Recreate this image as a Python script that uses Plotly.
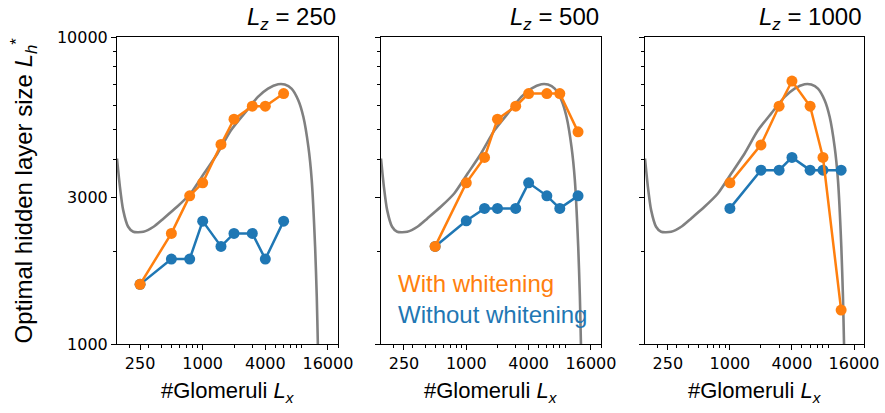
import numpy as np
import plotly.graph_objects as go

# ---------------- data ----------------
lz_labels = ["250", "500", "1000"]

x_p1 = [250, 500, 750, 1000, 1500, 2000, 3000, 4000, 6000]
white_p1 = [1564, 2292, 3038, 3349, 4466, 5398, 5950, 5950, 6542]
nowhite_p1 = [1564, 1891, 1891, 2513, 2079, 2292, 2292, 1891, 2513]

x_p2 = [500, 1000, 1500, 2000, 3000, 4000, 6000, 8000, 12000]
white_p2 = [2079, 3349, 4051, 5398, 5950, 6542, 6542, 6542, 4909]
nowhite_p2 = [2079, 2520, 2765, 2765, 2765, 3349, 3038, 2765, 3038]

x_p3 = [1000, 2000, 3000, 4000, 6000, 8000, 12000]
white_p3 = [3349, 4452, 5950, 7188, 5950, 4051, 1290]
nowhite_p3 = [2765, 3684, 3684, 4051, 3684, 3684, 3684]

# theory curve (same in every panel)
curve_x = [150, 160, 172, 192, 215, 269, 337, 421, 567, 764, 1030, 1389, 1870,
           2519, 3396, 4246, 5309, 6155, 7150, 8300, 9285, 10380, 11180, 12050,
           12500, 12800, 13100]
curve_y = [4018, 3251, 2729, 2409, 2320, 2320, 2409, 2565, 2798, 3091, 3590, 4175,
           4966, 5637, 6379, 6792, 7015, 7000, 6792, 6223, 5496, 4385, 3419, 2074,
           1426, 1005, 700]

x_tickvals = [250, 1000, 4000, 16000]
x_ticktext = ["250", "1000", "4000", "16000"]
x_minor = [200, 300, 400, 500, 600, 700, 800, 900, 2000, 3000, 5000, 6000, 7000,
           8000, 9000, 20000]
y_tickvals = [1000, 3000, 10000]
y_ticktext = ["1000", "3000", "10000"]
y_minor = [2000, 4000, 5000, 6000, 7000, 8000, 9000]

panels = [(x_p1, white_p1, nowhite_p1), (x_p2, white_p2, nowhite_p2),
          (x_p3, white_p3, nowhite_p3)]

ORANGE = "#ff7f0e"
BLUE = "#1f77b4"
GRAY = "#808080"

W, H = 885, 413
xdoms = [(117, 338), (381, 601), (645, 864)]
ytop, ybot = 37, 344

fig = go.Figure()
layout = dict(width=W, height=H, margin=dict(l=0, r=0, t=0, b=0, autoexpand=False),
              plot_bgcolor="white", paper_bgcolor="white", showlegend=False)

annotations = []
for i, (xs, wy, ny) in enumerate(panels):
    n = "" if i == 0 else str(i + 1)
    xa, ya = "x" + n, "y" + n
    fig.add_trace(go.Scatter(x=curve_x, y=curve_y, mode="lines", xaxis=xa, yaxis=ya,
                             line=dict(color=GRAY, width=2.6, shape="spline", smoothing=0.6)))
    fig.add_trace(go.Scatter(x=xs, y=ny, mode="lines+markers", xaxis=xa, yaxis=ya,
                             line=dict(color=BLUE, width=2.5),
                             marker=dict(color=BLUE, size=11)))
    fig.add_trace(go.Scatter(x=xs, y=wy, mode="lines+markers", xaxis=xa, yaxis=ya,
                             line=dict(color=ORANGE, width=2.5),
                             marker=dict(color=ORANGE, size=11)))
    d0, d1 = xdoms[i]
    axcommon = dict(showline=True, linecolor="black", linewidth=1, mirror=True,
                    showgrid=False, zeroline=False, ticks="outside", ticklen=5,
                    tickcolor="black", automargin=False,
                    tickfont=dict(family="DejaVu Sans", size=16, color="black"))
    layout["xaxis" + n] = dict(axcommon, type="log", range=[np.log10(150), np.log10(20000)],
                               domain=[d0 / W, d1 / W], anchor=ya,
                               tickvals=x_tickvals, ticktext=x_ticktext,
                               minor=dict(tickvals=x_minor, ticks="outside", ticklen=3,
                                          tickcolor="black", showgrid=False))
    layout["yaxis" + n] = dict(axcommon, type="log", range=[3, 4],
                               domain=[1 - ybot / H, 1 - ytop / H], anchor=xa,
                               tickvals=y_tickvals, ticktext=y_ticktext,
                               showticklabels=(i == 0),
                               minor=dict(tickvals=y_minor, ticks="outside", ticklen=3,
                                          tickcolor="black", showgrid=False))
    annotations.append(dict(text="<i>L</i><sub><i>z</i></sub> = " + lz_labels[i],
                            xref=xa + " domain", yref="paper", x=1, y=1 - 18 / H,
                            xanchor="right", yanchor="middle", showarrow=False,
                            font=dict(family="Liberation Sans", size=24, color="black")))
    annotations.append(dict(text="#Glomeruli <i>L</i><sub><i>x</i></sub>",
                            xref=xa + " domain", yref="paper", x=0.5, y=1 - 392 / H,
                            xanchor="center", yanchor="middle", showarrow=False,
                            font=dict(family="Liberation Sans", size=22, color="black")))

annotations.append(dict(text="Optimal hidden layer size <i>L</i><sub><i>h</i></sub><sup>*</sup>",
                        xref="paper", yref="y domain", x=23 / W, y=0.5, textangle=-90,
                        xanchor="center", yanchor="middle", showarrow=False,
                        font=dict(family="Liberation Sans", size=24, color="black")))
annotations.append(dict(text="With whitening", xref="paper", yref="paper",
                        x=396 / W, y=1 - 283 / H, xanchor="left", yanchor="middle",
                        showarrow=False,
                        font=dict(family="Liberation Sans", size=24, color=ORANGE)))
annotations.append(dict(text="Without whitening", xref="paper", yref="paper",
                        x=396 / W, y=1 - 314 / H, xanchor="left", yanchor="middle",
                        showarrow=False,
                        font=dict(family="Liberation Sans", size=24, color=BLUE)))
layout["annotations"] = annotations
fig.update_layout(**layout)
fig.write_html("out.html")
